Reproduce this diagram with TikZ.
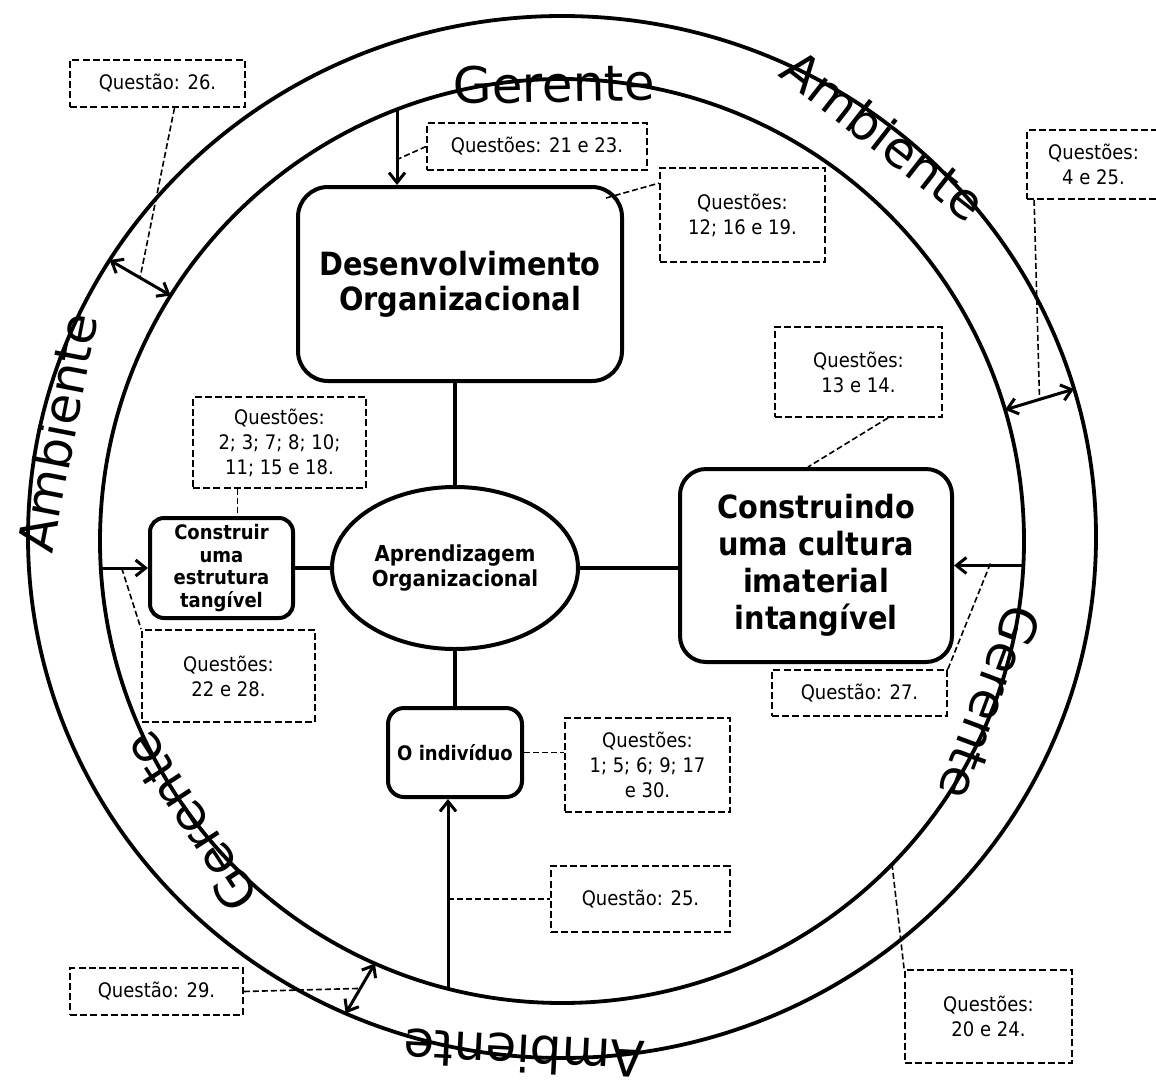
\documentclass[tikz,border=0pt]{standalone}
\usepackage{fontspec}
\setmainfont{DejaVu Sans}[FakeStretch=0.9]
\newfontfamily\handfont{DejaVu Sans}
\usetikzlibrary{arrows.meta,shapes.geometric,calc}
\begin{document}
\begin{tikzpicture}[x=0.5pt,y=-0.5pt,
  ring/.style={line width=1.9pt},
  hand/.style={font=\handfont\fontsize{25}{30}\selectfont,inner sep=0pt,anchor=center},
  solidbox/.style={draw,line width=2pt,align=center,inner sep=0pt},
  qbox/.style={draw,line width=0.9pt,dash pattern=on 3.5pt off 1.6pt,align=center,inner sep=0pt,
    font=\fontsize{10}{12.5}\selectfont},
  dl/.style={line width=0.8pt,dash pattern=on 3pt off 1.5pt},
  conn/.style={line width=2pt},
  arr/.style={line width=1.5pt,-{Straight Barb[length=5pt,width=8pt]}},
  darr/.style={line width=1.5pt,{Straight Barb[length=5pt,width=8pt]}-{Straight Barb[length=5pt,width=8pt]}}
]
\useasboundingbox (0,0) rectangle (1156,1082);
\fill[white] (0,0) rectangle (1156,1082);

% rings
\draw[ring] (562,537) ellipse [x radius=267pt, y radius=260.5pt];
\draw[ring] (562,541) circle [radius=231pt];

% ring words
\node[hand,rotate=1] (gtop) at (553.9,84) {Gerente};
\node[hand,rotate=-38] (atr) at (884,135) {Ambiente};
\node[hand,rotate=79] (aleft) at (57,432) {Ambiente};
\node[hand,rotate=-110.5] (gright) at (990,702.8) {Gerente};
\node[hand,rotate=123] (gll) at (190,822) {Gerente};
\node[hand,rotate=177] (abot) at (524,1054) {Ambiente};

% main nodes
\node[solidbox,rounded corners=15pt,minimum width=162pt,minimum height=97pt,
  font=\bfseries\fontsize{16}{17.5}\selectfont] (desenv) at (460,284) {Desenvolvimento\\Organizacional};
\node[solidbox,rounded corners=13pt,minimum width=136pt,minimum height=96.5pt,
  font=\bfseries\fontsize{16}{18.5}\selectfont] (construindo) at (816,565.5) {Construindo\\uma cultura\\imaterial\\intangível};
\node[solidbox,rounded corners=7pt,minimum width=71.5pt,minimum height=50pt,
  font=\bfseries\fontsize{10}{11.2}\selectfont] (construir) at (221.5,568) {Construir\\uma\\estrutura\\tangível};
\node[solidbox,rounded corners=8pt,minimum width=67pt,minimum height=44.5pt,
  font=\bfseries\fontsize{10}{12}\selectfont] (individuo) at (455,752.5) {O indivíduo};
\node[solidbox,ellipse,minimum width=123pt,minimum height=81pt,
  font=\bfseries\fontsize{11}{12.5}\selectfont] (aprend) at (455,568) {Aprendizagem\\Organizacional};

% question boxes
\node[qbox,minimum width=87.5pt,minimum height=23.5pt] (q26) at (157.5,83.5) {Questão: 26.};
\node[qbox,minimum width=110pt,minimum height=23.5pt] (q2123) at (537,146.5) {Questões: 21 e 23.};
\node[qbox,minimum width=82.5pt,minimum height=47pt] (q121619) at (742.5,215) {Questões:\\12; 16 e 19.};
\node[qbox,minimum width=66.5pt,minimum height=34.5pt] (q425) at (1093.5,164.5) {Questões:\\4 e 25.};
\node[qbox,minimum width=83.5pt,minimum height=45pt] (q1314) at (858.5,372) {Questões:\\13 e 14.};
\node[qbox,minimum width=86.5pt,minimum height=45.5pt] (q218) at (279.5,442.5) {Questões:\\2; 3; 7; 8; 10;\\11; 15 e 18.};
\node[qbox,minimum width=86.5pt,minimum height=46pt] (q2228) at (228.5,676) {Questões:\\22 e 28.};
\node[qbox,minimum width=87.5pt,minimum height=23pt] (q27) at (859.5,693) {Questão: 27.};
\node[qbox,minimum width=82.5pt,minimum height=47pt] (q1530) at (647.5,765) {Questões:\\1; 5; 6; 9; 17\\e 30.};
\node[qbox,minimum width=89.5pt,minimum height=33pt] (q25) at (640.5,899) {Questão: 25.};
\node[qbox,minimum width=86.5pt,minimum height=23.5pt] (q29) at (156.5,991.5) {Questão: 29.};
\node[qbox,minimum width=83.5pt,minimum height=46.5pt] (q2024) at (988.5,1016.5) {Questões:\\20 e 24.};

% points on the rings
\coordinate (ga) at (397,109.5);
\coordinate (oa1) at (109.5,260);
\coordinate (ia1) at (170.6,295.5);
\coordinate (ia2) at (1005,409.8);
\coordinate (oa2) at (1074,389);
\coordinate (il) at (100.7,568);
\coordinate (ir) at (1023.4,565.5);
\coordinate (ib) at (448,988.7);
\coordinate (oa3) at (345.7,1013.4);
\coordinate (ia3) at (374.9,963.4);
\coordinate (ia4) at (892,864);

% solid connectors
\draw[conn] (aprend.north) -- (aprend.north |- desenv.south);
\draw[conn] (aprend.east) -- (construindo.west |- aprend.east);
\draw[conn] (construir.east) -- (aprend.west);
\draw[conn] (aprend.south) -- (individuo.north);

% arrows
\draw[arr] (ga) -- (ga |- desenv.north);
\draw[arr] (il) -- (construir.west);
\draw[arr] (ir) -- (construindo.east |- ir);
\draw[arr] (ib) -- (ib |- individuo.south);
\draw[darr] (oa1) -- (ia1);
\draw[darr] (ia2) -- (oa2);
\draw[darr] (oa3) -- (ia3);

% dashed leaders
\draw[dl] (q2123.west) -- ($(ga)+(0,50)$);
\draw[dl] ($(desenv.north east)+(-18,13)$) -- ($(q121619.north west)+(0,16)$);
\draw[dl] ($(q26.south)+(17,0)$) -- ($(oa1)!0.5!(ia1)$);
\draw[dl] ($(q425.south west)+(8,0)$) -- ($(ia2)!0.5!(oa2)$);
\draw[dl] ($(q218.south)+(-42,0)$) -- ($(construir.north)+(16,0)$);
\draw[dl] ($(il)+(21,0)$) -- (q2228.north west);
\draw[dl] ($(q1314.south)+(29.5,0)$) -- ($(construindo.north)+(-8,0)$);
\draw[dl] ($(ir)+(-33,-2)$) -- (q27.north east);
\draw[dl] (individuo.east) -- (individuo.east -| q1530.west);
\draw[dl] (ib |- q25.west) -- (q25.west);
\draw[dl] (q29.east) -- ($(oa3)!0.5!(ia3)$);
\draw[dl] (ia4) -- (q2024.north west);
\end{tikzpicture}
\end{document}
